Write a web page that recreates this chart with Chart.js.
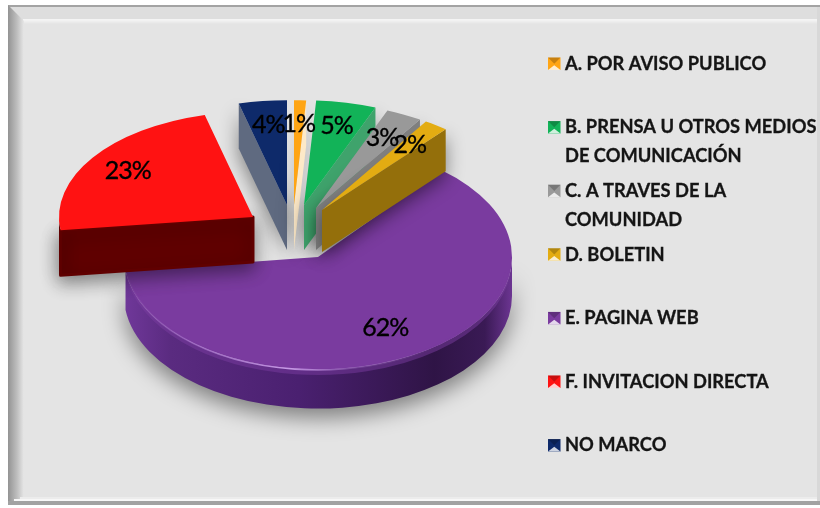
<!DOCTYPE html>
<html>
<head>
<meta charset="utf-8">
<title>Pie</title>
<script src="https://cdn.jsdelivr.net/npm/chart.js@4"></script>
<style>
    html, body { margin: 0; padding: 0; background: #fff; }
    canvas { display: block; filter: blur(0.45px); }
</style>
</head>
<body>
<canvas id="pieChart" width="820" height="508"></canvas>
<script>
const categories = [
    "A. POR AVISO PUBLICO",
    ["B. PRENSA U OTROS MEDIOS", "DE COMUNICACIÓN"],
    ["C. A TRAVES DE LA", "COMUNIDAD"],
    "D. BOLETIN",
    "E. PAGINA WEB",
    "F. INVITACION DIRECTA",
    "NO MARCO"
];
const values = [1, 5, 3, 2, 62, 23, 4];

const sliceColors = ["#ffa514", "#12b358", "#999999", "#e3ac12", "#7a3b9f", "#ff1212", "#0e2a6a"];
const wallColors = ["#fde9c8", "#3fa36c", "#7f7f7f", "#946f0b", "#4d2270", "#600000", "#5f6a80"];

// where each exploded slice has its tip, how flat it looks, how thick it is
const tipX = [294, 304, 316, 322, 318, 253, 287];
const tipY = [205, 205, 208, 210, 257, 217, 205];
const flatten = [0.54, 0.54, 0.54, 0.54, 0.58, 0.543, 0.54];
const depth = [45, 45, 42, 42, 39, 45, 45];
const labelFrac = [0.77, 0.77, 0.75, 0.77, 0.72, 0.78, 0.77];
const drawOrder = [4, 6, 0, 1, 2, 3, 5];

const pieRadius = 194;

function fillWalls(ctx, arc, i) {
    const x = tipX[i], y = tipY[i], k = flatten[i], d = depth[i], r = arc.outerRadius;
    const mid = (arc.startAngle + arc.endAngle) / 2;
    const cut = Math.cos(mid) < 0 ? arc.startAngle : arc.endAngle;

    ctx.save();
    ctx.shadowColor = "rgba(0,0,0,0.45)";
    ctx.shadowBlur = i === 4 ? 22 : 18;
    ctx.shadowOffsetY = i === 4 ? 9 : 6;
    ctx.lineJoin = "round";

    // cut side, skipped for the big slice because it faces away
    if (i !== 4) {
        const ox = x + Math.cos(cut) * r, oy = y + Math.sin(cut) * r * k;
        ctx.beginPath();
        ctx.moveTo(x, y);
        ctx.lineTo(ox, oy);
        ctx.lineTo(ox, oy + d);
        ctx.lineTo(x, y + d);
        ctx.closePath();
        ctx.fillStyle = wallColors[i];
        ctx.fill();
        if (i === 5) {
            ctx.strokeStyle = wallColors[i];
            ctx.lineWidth = 3;
            ctx.stroke();
        }
    }

    // outer rim, only the part turned to the viewer
    const a = Math.max(arc.startAngle, 0), b = Math.min(arc.endAngle, Math.PI);
    if (b > a) {
        ctx.beginPath();
        ctx.ellipse(x, y, r, r * k, 0, a, b);
        ctx.ellipse(x, y + d, r, r * k, 0, b, a, true);
        ctx.closePath();
        if (i === 4) {
            const g = ctx.createLinearGradient(x - r, 0, x + r, 0);
            g.addColorStop(0, "#70389a");
            g.addColorStop(0.12, "#5a2b80");
            g.addColorStop(0.45, "#4a2070");
            g.addColorStop(0.8, "#2f1446");
            g.addColorStop(0.93, "#3a1a55");
            g.addColorStop(1, "#6c3592");
            ctx.fillStyle = g;
        } else {
            ctx.fillStyle = wallColors[i];
        }
        ctx.fill();
    }
    ctx.restore();
}

function rimHighlight(ctx, arc, i) {
    const x = tipX[i], y = tipY[i], r = arc.outerRadius, k = flatten[i];

    // soft bevel just under the top face
    ctx.save();
    ctx.beginPath();
    ctx.ellipse(x, y + 3, r - 3, (r - 1) * k, 0, 0.12, arc.endAngle);
    ctx.strokeStyle = "rgba(122,59,159,0.5)";
    ctx.lineWidth = 6;
    ctx.stroke();

    const g = ctx.createLinearGradient(x - r, 0, x + r, 0);
    g.addColorStop(0, "rgba(200,150,235,0)");
    g.addColorStop(0.18, "rgba(200,150,235,0.45)");
    g.addColorStop(0.42, "rgba(215,170,245,0.85)");
    g.addColorStop(0.6, "rgba(200,150,235,0.25)");
    g.addColorStop(0.8, "rgba(200,150,235,0)");
    ctx.beginPath();
    ctx.ellipse(x, y + 1, r - 1, (r - 1) * k, 0, 0.12, arc.endAngle);
    ctx.strokeStyle = g;
    ctx.lineWidth = 1.6;
    ctx.stroke();
    ctx.restore();
}

const frame = {
    id: "frame",
    beforeDraw(chart) {
        const ctx = chart.ctx;
        ctx.save();
        ctx.fillStyle = "#ffffff";
        ctx.fillRect(0, 0, 820, 508);
        ctx.fillStyle = "#e4e4e4";
        ctx.fillRect(8, 5, 812, 500);

        // top band
        ctx.fillStyle = "#a3a3a3";
        ctx.fillRect(8, 5, 812, 2);
        ctx.fillStyle = "#dedede";
        ctx.fillRect(9, 7, 811, 13);
        const top = ctx.createLinearGradient(0, 19, 0, 24);
        top.addColorStop(0, "rgba(255,255,255,0.75)");
        top.addColorStop(1, "rgba(255,255,255,0)");
        ctx.fillStyle = top;
        ctx.fillRect(23, 19, 797, 5);

        // left band with a mitred corner
        const left = ctx.createLinearGradient(8, 0, 24, 0);
        left.addColorStop(0, "#939393");
        left.addColorStop(0.55, "#bdbdbd");
        left.addColorStop(1, "#e6e6e6");
        ctx.beginPath();
        ctx.moveTo(8, 5);
        ctx.lineTo(24, 21);
        ctx.lineTo(24, 497);
        ctx.lineTo(8, 505);
        ctx.closePath();
        ctx.fillStyle = left;
        ctx.fill();

        // bottom band
        ctx.fillStyle = "#ececec";
        ctx.fillRect(20, 497, 800, 2);
        ctx.fillStyle = "#f7f7f7";
        ctx.fillRect(14, 499, 806, 2);
        ctx.fillStyle = "#a2a2a2";
        ctx.fillRect(8, 501, 812, 4);

        // right edge
        ctx.fillStyle = "#d8d8d8";
        ctx.fillRect(817, 7, 3, 494);
        ctx.restore();
    }
};

const pie3d = {
    id: "pie3d",
    beforeDatasetDraw(chart, args) {
        const ctx = chart.ctx;
        const arcs = args.meta.data;

        drawOrder.forEach(function (i) {
            const arc = arcs[i];
            fillWalls(ctx, arc, i);
            ctx.save();
            ctx.translate(tipX[i], tipY[i]);
            ctx.scale(1, flatten[i]);
            ctx.translate(-arc.x, -arc.y);
            arc.draw(ctx);
            ctx.restore();
            if (i === 4) rimHighlight(ctx, arc, i);
        });
        return false;
    },
    afterDraw(chart) {
        const ctx = chart.ctx;
        const arcs = chart.getDatasetMeta(0).data;

        // value labels
        ctx.save();
        ctx.fillStyle = "#000000";
        ctx.strokeStyle = "#000000";
        ctx.lineWidth = 0.35;
        ctx.font = "25px Lato";
        ctx.letterSpacing = "-1px";
        ctx.textAlign = "center";
        ctx.textBaseline = "middle";
        values.forEach(function (v, i) {
            const arc = arcs[i];
            const mid = (arc.startAngle + arc.endAngle) / 2;
            const r = arc.outerRadius * labelFrac[i];
            const lx = tipX[i] + Math.cos(mid) * r;
            const ly = tipY[i] + Math.sin(mid) * r * flatten[i];
            ctx.fillText(v + "%", lx, ly);
            ctx.strokeText(v + "%", lx, ly);
        });
        ctx.restore();

        // legend
        ctx.save();
        ctx.font = "bold 18.3px Lato";
        ctx.textBaseline = "middle";
        ctx.strokeStyle = "#151515";
        ctx.lineWidth = 0.3;
        categories.forEach(function (cat, i) {
            const y = 64 + i * 63.6;
            const bx = 548, by = y - 6.5, s = 12.5;
            ctx.fillStyle = sliceColors[i];
            ctx.fillRect(bx, by, s, s);
            ctx.fillStyle = "rgba(0,0,0,0.22)";
            ctx.beginPath();
            ctx.moveTo(bx, by);
            ctx.lineTo(bx + s, by);
            ctx.lineTo(bx + s / 2, by + s / 2);
            ctx.closePath();
            ctx.fill();
            ctx.fillStyle = "rgba(255,255,255,0.8)";
            ctx.beginPath();
            ctx.moveTo(bx, by + s);
            ctx.lineTo(bx + s, by + s);
            ctx.lineTo(bx + s / 2, by + s * 0.62);
            ctx.closePath();
            ctx.fill();

            ctx.fillStyle = "#151515";
            [].concat(cat).forEach(function (line, n) {
                ctx.fillText(line, 565, y + n * 29);
                ctx.strokeText(line, 565, y + n * 29);
            });
        });
        ctx.restore();
    }
};

document.addEventListener("DOMContentLoaded", function () {
    new Chart(document.getElementById("pieChart"), {
        type: "pie",
        data: {
            labels: categories,
            datasets: [{
                data: values,
                backgroundColor: sliceColors,
                borderWidth: 0,
                radius: pieRadius
            }]
        },
        options: {
            responsive: false,
            animation: false,
            plugins: {
                legend: { display: false },
                tooltip: { enabled: false }
            }
        },
        plugins: [frame, pie3d]
    });
});
</script>
</body>
</html>
